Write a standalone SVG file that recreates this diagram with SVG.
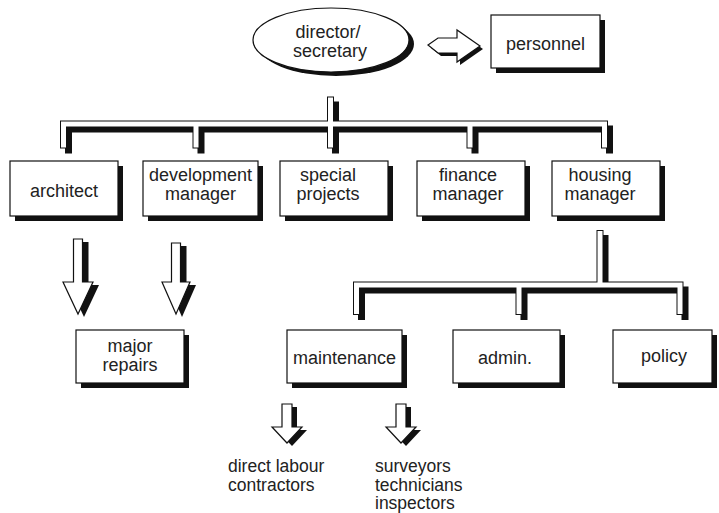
<svg xmlns="http://www.w3.org/2000/svg" width="719" height="513" viewBox="0 0 719 513">
<style>
  text { font-family: "Liberation Sans", Arial, sans-serif; font-size: 18px; fill: #222; }
  .small { font-size: 17.5px; }
  .box { fill: #fff; stroke: #111; stroke-width: 1.2; }
  .sh { fill: #111; }
  .tube-sh { fill: none; stroke: #111; stroke-width: 7; stroke-linecap: square; }
  .tube-out { fill: none; stroke: #111; stroke-width: 7; stroke-linecap: square; }
  .tube-in { fill: none; stroke: #fff; stroke-width: 5; stroke-linecap: square; }
  .arrow { fill: #fff; stroke: #111; stroke-width: 1.2; stroke-linejoin: miter; }
</style>
<rect width="719" height="513" fill="#fff"/>

<g id="connectors">
  <g id="top-tree">
    <path class="tube-sh" transform="translate(5,5)" d="M330.5,100 V145 M63.5,145 V124 H604.5 V145 M196,124 V145 M470,124 V145"/>
    <path class="tube-out" d="M330.5,100 V145 M63.5,145 V124 H604.5 V145 M196,124 V145 M470,124 V145"/>
    <path class="tube-in" d="M330.5,100 V145 M63.5,145 V124 H604.5 V145 M196,124 V145 M470,124 V145"/>
  </g>
  <g id="lower-tree">
    <path class="tube-sh" transform="translate(5,5)" d="M600,233.5 V285 M356.5,311.5 V285 H680 V311.5 M519,285 V311.5"/>
    <path class="tube-out" d="M600,233.5 V285 M356.5,311.5 V285 H680 V311.5 M519,285 V311.5"/>
    <path class="tube-in" d="M600,233.5 V285 M356.5,311.5 V285 H680 V311.5 M519,285 V311.5"/>
  </g>
  <g id="arrow-personnel">
    <polygon class="sh" transform="translate(3,3)" points="428,45 438,38 457,38 457,30 480,46 457,62 457,53 438,53"/>
    <polygon class="arrow" points="428,45 438,38 457,38 457,30 480,46 457,62 457,53 438,53"/>
  </g>
  <g id="arrow-architect">
    <polygon class="sh" transform="translate(6,3)" points="73.5,239 82.5,239 82.5,282 93,282 78,314 63,282 73.5,282"/>
    <polygon class="arrow" points="73.5,239 82.5,239 82.5,282 93,282 78,314 63,282 73.5,282"/>
  </g>
  <g id="arrow-development">
    <polygon class="sh" transform="translate(6,3)" points="171.5,243 180.5,243 180.5,282 190,282 176,314 162,282 171.5,282"/>
    <polygon class="arrow" points="171.5,243 180.5,243 180.5,282 190,282 176,314 162,282 171.5,282"/>
  </g>
  <g id="arrow-labour">
    <polygon class="sh" transform="translate(5,3)" points="282,404 292,404 292,427 302,427 287,443 272,427 282,427"/>
    <polygon class="arrow" points="282,404 292,404 292,427 302,427 287,443 272,427 282,427"/>
  </g>
  <g id="arrow-surveyors">
    <polygon class="sh" transform="translate(5,3)" points="396,404 406,404 406,427 416,427 401,443 386,427 396,427"/>
    <polygon class="arrow" points="396,404 406,404 406,427 416,427 401,443 386,427 396,427"/>
  </g>
</g>

<g id="director">
  <ellipse class="sh" cx="336" cy="44" rx="78" ry="32"/>
  <ellipse class="box" cx="331" cy="40" rx="78" ry="32"/>
  <text x="328" y="38" text-anchor="middle">director/</text>
  <text x="330" y="57" text-anchor="middle">secretary</text>
</g>

<g id="personnel">
  <rect class="sh" x="496" y="20" width="109" height="53"/>
  <rect class="box" x="491" y="15" width="109" height="53"/>
  <text x="545.5" y="50" text-anchor="middle">personnel</text>
</g>

<g id="architect">
  <rect class="sh" x="15" y="166" width="108" height="55"/>
  <rect class="box" x="10" y="161" width="108" height="55"/>
  <text x="64" y="197" text-anchor="middle">architect</text>
</g>

<g id="development-manager">
  <rect class="sh" x="148" y="166" width="115" height="55"/>
  <rect class="box" x="143" y="161" width="115" height="55"/>
  <text x="200.5" y="181" text-anchor="middle">development</text>
  <text x="200.5" y="200" text-anchor="middle">manager</text>
</g>

<g id="special-projects">
  <rect class="sh" x="285" y="166" width="108" height="55"/>
  <rect class="box" x="280" y="161" width="108" height="55"/>
  <text x="328" y="181" text-anchor="middle">special</text>
  <text x="328" y="200" text-anchor="middle">projects</text>
</g>

<g id="finance-manager">
  <rect class="sh" x="422" y="166" width="108" height="55"/>
  <rect class="box" x="417" y="161" width="108" height="55"/>
  <text x="468" y="181" text-anchor="middle">finance</text>
  <text x="468" y="200" text-anchor="middle">manager</text>
</g>

<g id="housing-manager">
  <rect class="sh" x="557" y="166" width="108" height="55"/>
  <rect class="box" x="552" y="161" width="108" height="55"/>
  <text x="600" y="181" text-anchor="middle">housing</text>
  <text x="600" y="200" text-anchor="middle">manager</text>
</g>

<g id="major-repairs">
  <rect class="sh" x="81" y="335" width="108" height="53"/>
  <rect class="box" x="76" y="330" width="108" height="53"/>
  <text x="130" y="352" text-anchor="middle">major</text>
  <text x="130" y="371" text-anchor="middle">repairs</text>
</g>

<g id="maintenance">
  <rect class="sh" x="292" y="335" width="115" height="53"/>
  <rect class="box" x="287" y="330" width="115" height="53"/>
  <text x="344.5" y="364" text-anchor="middle">maintenance</text>
</g>

<g id="admin">
  <rect class="sh" x="458" y="335" width="107" height="53"/>
  <rect class="box" x="453" y="330" width="107" height="53"/>
  <text x="505" y="364" text-anchor="middle">admin.</text>
</g>

<g id="policy">
  <rect class="sh" x="618" y="335" width="99" height="53"/>
  <rect class="box" x="613" y="330" width="99" height="53"/>
  <text x="664" y="362" text-anchor="middle">policy</text>
</g>

<g id="labour">
  <text class="small" x="228" y="472">direct labour</text>
  <text class="small" x="228" y="491">contractors</text>
</g>

<g id="surveyors">
  <text class="small" x="375" y="472">surveyors</text>
  <text class="small" x="375" y="490.5">technicians</text>
  <text class="small" x="375" y="509">inspectors</text>
</g>
</svg>
